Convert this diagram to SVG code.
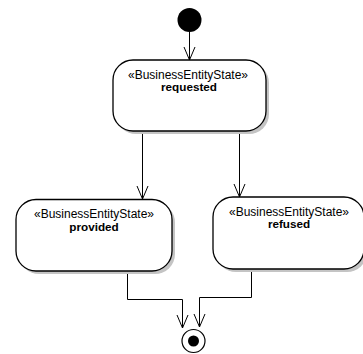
<svg xmlns="http://www.w3.org/2000/svg" width="363" height="354" viewBox="0 0 363 354">
<defs>
<marker id="open" markerWidth="16" markerHeight="14" refX="14" refY="6" orient="auto" markerUnits="userSpaceOnUse" viewBox="0 0 16 12">
<path d="M1,0.5 L14,6 L1,11.5" fill="none" stroke="#000" stroke-width="1"/>
</marker>
</defs>
<style>
.shadow{fill:#c4c4c4;stroke:none}
.state{fill:#fff;stroke:#000;stroke-width:1.3}
.st{font-family:"Liberation Sans",Arial,sans-serif;font-size:12px;text-anchor:middle;fill:#000}
.nm{font-family:"Liberation Sans",Arial,sans-serif;font-size:11.7px;font-weight:bold;text-anchor:middle;fill:#000}
.edge{fill:none;stroke:#000;stroke-width:1}
</style>
<g id="connectors">
<path class="edge" d="M189.5,32 L189.5,60" marker-end="url(#open)"/>
<path class="edge" d="M142.5,131 L142.5,199" marker-end="url(#open)"/>
<path class="edge" d="M239.5,131 L239.5,197" marker-end="url(#open)"/>
<path class="edge" d="M127.5,271 L127.5,299.5 L182.5,299.5 L182.5,328" marker-end="url(#open)"/>
<path class="edge" d="M251.5,269 L251.5,297.5 L199.5,297.5 L199.5,327" marker-end="url(#open)"/>
</g>
<g id="start">
<circle cx="189.5" cy="20" r="12" fill="#000"/>
</g>
<g id="requested">
<rect class="shadow" x="116" y="63" width="153" height="71" rx="20" ry="20"/>
<rect class="state" x="113" y="60" width="153" height="71" rx="20" ry="20"/>
<text class="st" x="188" y="78.5">«BusinessEntityState»</text>
<text class="nm" x="189" y="91">requested</text>
</g>
<g id="provided">
<rect class="shadow" x="19" y="202.5" width="156" height="71.5" rx="20" ry="20"/>
<rect class="state" x="16" y="199.5" width="156" height="71.5" rx="20" ry="20"/>
<text class="st" x="94" y="218">«BusinessEntityState»</text>
<text class="nm" x="94" y="230.5">provided</text>
</g>
<g id="refused">
<rect class="shadow" x="216" y="200" width="151" height="72" rx="20" ry="20"/>
<rect class="state" x="213" y="197" width="151" height="72" rx="20" ry="20"/>
<text class="st" x="289" y="215.5">«BusinessEntityState»</text>
<text class="nm" x="289" y="228">refused</text>
</g>
<g id="final">
<circle cx="193.5" cy="341" r="11.5" fill="#fff" stroke="#000" stroke-width="1.2"/>
<circle cx="193.5" cy="341" r="5.5" fill="#000"/>
</g>
</svg>
